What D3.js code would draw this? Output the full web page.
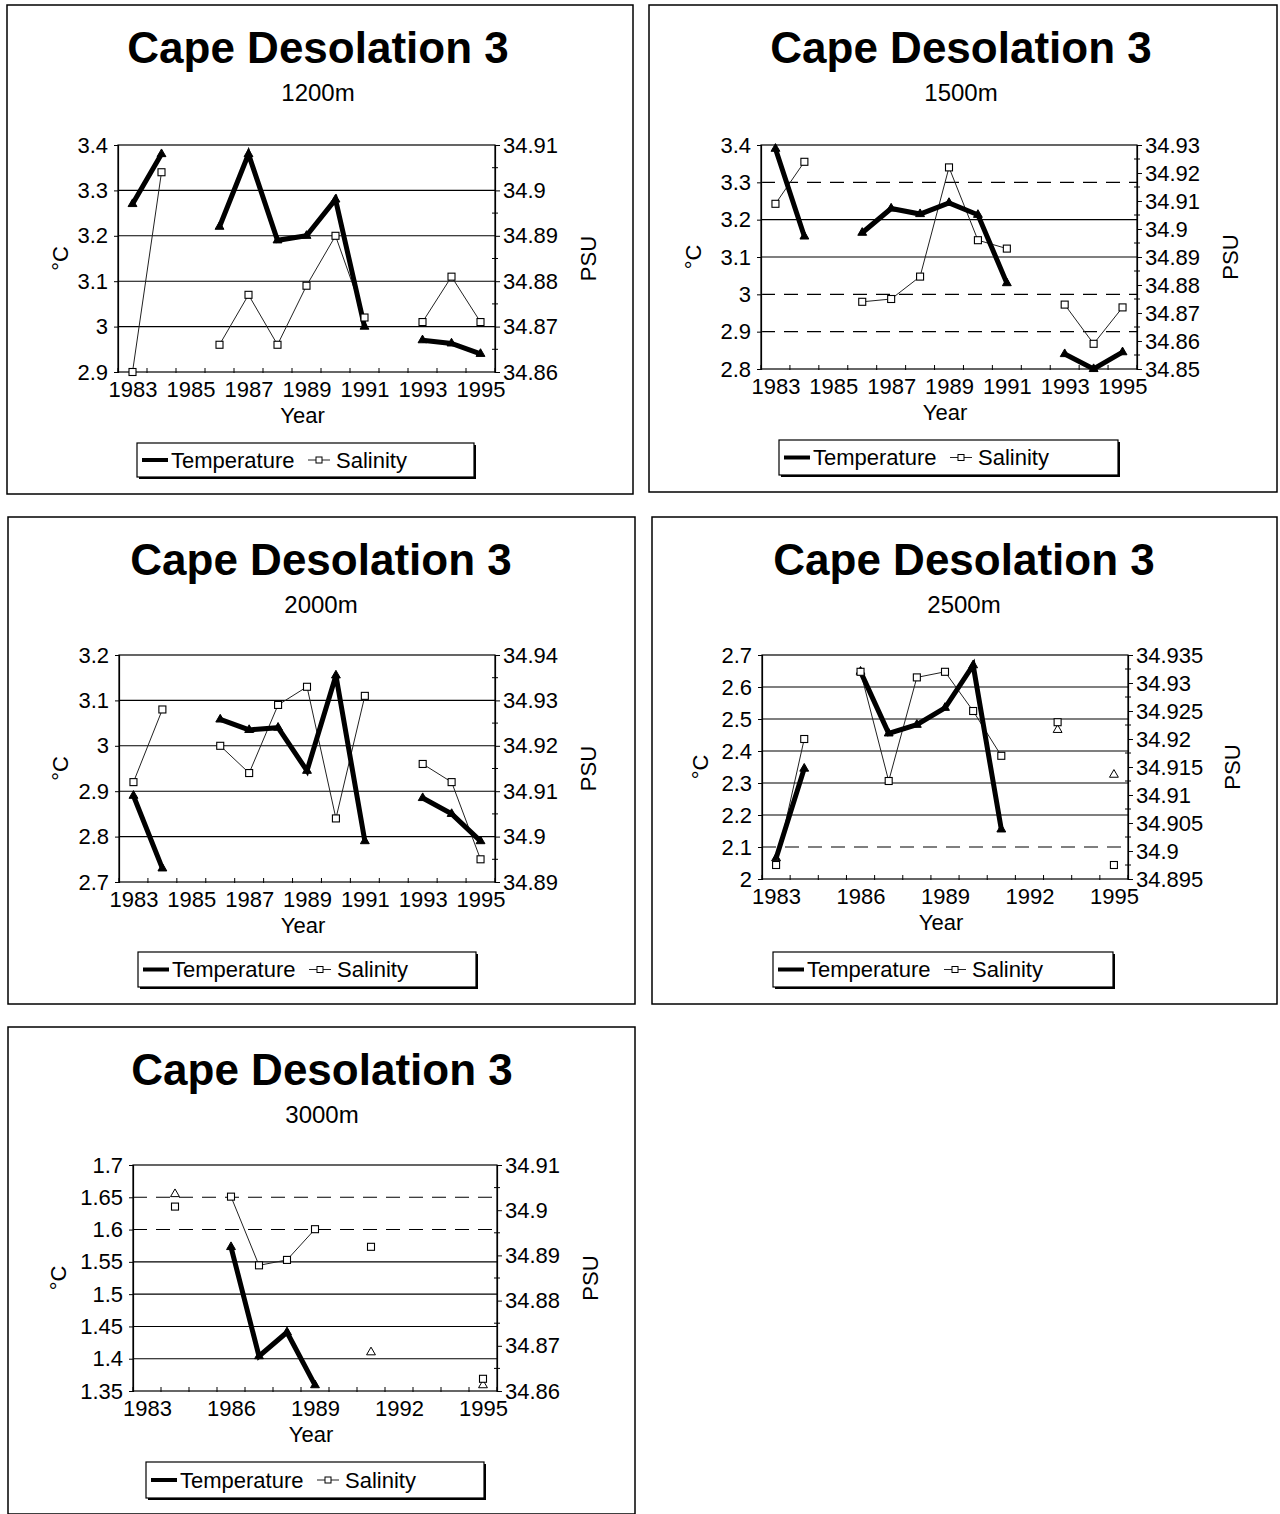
<!DOCTYPE html>
<html>
<head>
<meta charset="utf-8">
<script src="https://cdn.jsdelivr.net/npm/d3@7"></script>
<style>
  body { margin: 0; background: #fff; }
  svg { display: block; }
  text { font-family: "Liberation Sans", Arial, sans-serif; fill: #000; }
</style>
</head>
<body>
<svg id="chart" width="1280" height="1514"></svg>
<script>
// ---- Categories ----
const years = [1983, 1984, 1985, 1986, 1987, 1988, 1989, 1990, 1991, 1992, 1993, 1994, 1995];

// ---- Series values (null = no observation that year) ----
const temp1200 = [3.27, 3.38, null, 3.22, 3.38, 3.19, 3.20, 3.28, 3.00, null, 2.97, 2.963, 2.94];
const sal1200  = [34.860, 34.904, null, 34.866, 34.877, 34.866, 34.879, 34.890, 34.872, null, 34.871, 34.881, 34.871];

const temp1500 = [3.39, 3.155, null, 3.165, 3.23, 3.215, 3.245, 3.213, 3.03, null, 2.84, 2.80, 2.845];
const sal1500  = [34.909, 34.924, null, 34.874, 34.875, 34.883, 34.922, 34.896, 34.893, null, 34.873, 34.859, 34.872];

const temp2000 = [2.89, 2.73, null, 3.058, 3.035, 3.04, 2.945, 3.155, 2.79, null, 2.885, 2.85, 2.79];
const sal2000  = [34.912, 34.928, null, 34.920, 34.914, 34.929, 34.933, 34.904, 34.931, null, 34.916, 34.912, 34.895];

const temp2500 = [2.065, 2.345, null, 2.648, 2.455, 2.482, 2.535, 2.668, 2.155, null, 2.466, null, 2.326];
const sal2500  = [34.8975, 34.920, null, 34.932, 34.9125, 34.931, 34.932, 34.925, 34.917, null, 34.923, null, 34.8975];

const temp3000 = [null, 1.655, null, 1.573, 1.404, 1.441, 1.359, null, 1.41, null, null, null, 1.359];
const sal3000  = [null, 34.9008, null, 34.903, 34.8878, 34.889, 34.8958, null, 34.8919, null, null, null, 34.8627];

// ---- Tick labels ----
const tTicks1200 = [2.9, 3.0, 3.1, 3.2, 3.3, 3.4];
const sTicks1200 = [34.86, 34.87, 34.88, 34.89, 34.90, 34.91];
const tTicks1500 = [2.8, 2.9, 3.0, 3.1, 3.2, 3.3, 3.4];
const sTicks1500 = [34.85, 34.86, 34.87, 34.88, 34.89, 34.90, 34.91, 34.92, 34.93];
const tTicks2000 = [2.7, 2.8, 2.9, 3.0, 3.1, 3.2];
const sTicks2000 = [34.89, 34.90, 34.91, 34.92, 34.93, 34.94];
const tTicks2500 = [2.0, 2.1, 2.2, 2.3, 2.4, 2.5, 2.6, 2.7];
const sTicks2500 = [34.895, 34.90, 34.905, 34.91, 34.915, 34.92, 34.925, 34.93, 34.935];
const tTicks3000 = [1.35, 1.4, 1.45, 1.5, 1.55, 1.6, 1.65, 1.7];
const sTicks3000 = [34.86, 34.87, 34.88, 34.89, 34.90, 34.91];

const yearsEvery2 = [1983, 1985, 1987, 1989, 1991, 1993, 1995];
const yearsEvery3 = [1983, 1986, 1989, 1992, 1995];

const depths = ["1200m", "1500m", "2000m", "2500m", "3000m"];
const stationTitle = "Cape Desolation 3";

// ---- Panel layout ----
const panels = [
  { depth: depths[0], temp: temp1200, sal: sal1200, tTicks: tTicks1200, sTicks: sTicks1200, xTicks: yearsEvery2,
    dashed: [],
    frame: { x: 7, y: 5, w: 626, h: 489 }, plot: { x: 118, y: 145, w: 377, h: 227 },
    cx: 318, degX: 60, psuX: 588, legend: { x: 137, y: 443, w: 337, h: 34 } },
  { depth: depths[1], temp: temp1500, sal: sal1500, tTicks: tTicks1500, sTicks: sTicks1500, xTicks: yearsEvery2,
    dashed: [3.3, 3.0, 2.9],
    frame: { x: 649, y: 5, w: 628, h: 487 }, plot: { x: 761, y: 145, w: 376, h: 224 },
    cx: 961, degX: 693, psuX: 1230, legend: { x: 779, y: 440, w: 339, h: 35 } },
  { depth: depths[2], temp: temp2000, sal: sal2000, tTicks: tTicks2000, sTicks: sTicks2000, xTicks: yearsEvery2,
    dashed: [],
    frame: { x: 8, y: 517, w: 627, h: 487 }, plot: { x: 119, y: 655, w: 376, h: 227 },
    cx: 321, degX: 60, psuX: 588, legend: { x: 138, y: 952, w: 338, h: 35 } },
  { depth: depths[3], temp: temp2500, sal: sal2500, tTicks: tTicks2500, sTicks: sTicks2500, xTicks: yearsEvery3,
    dashed: [2.1],
    frame: { x: 652, y: 517, w: 625, h: 487 }, plot: { x: 762, y: 655, w: 366, h: 224 },
    cx: 964, degX: 700, psuX: 1232, legend: { x: 773, y: 952, w: 340, h: 35 } },
  { depth: depths[4], temp: temp3000, sal: sal3000, tTicks: tTicks3000, sTicks: sTicks3000, xTicks: yearsEvery3,
    dashed: [1.65, 1.6],
    frame: { x: 8, y: 1027, w: 627, h: 487 }, plot: { x: 133, y: 1165, w: 364, h: 226 },
    cx: 322, degX: 58, psuX: 590, legend: { x: 146, y: 1462, w: 338, h: 36 } }
];

const svg = d3.select("#chart");
const fmt = v => String(+v.toFixed(4));
const TICK_FONT = 22;

function styleAxis(g) {
  g.attr("font-family", null).attr("font-size", null);
  g.selectAll("text").style("font-size", TICK_FONT + "px");
  g.selectAll("path.domain").attr("stroke", "#000").attr("stroke-width", 1.2);
  g.selectAll(".tick line").attr("stroke", "#000").attr("stroke-width", 1);
}

function drawPanel(p) {
  const g = svg.append("g");
  const { frame, plot } = p;
  const bottom = plot.y + plot.h, right = plot.x + plot.w;

  g.append("rect")
    .attr("x", frame.x).attr("y", frame.y).attr("width", frame.w).attr("height", frame.h)
    .attr("fill", "none").attr("stroke", "#000").attr("stroke-width", 1.5);

  g.append("text").attr("x", p.cx).attr("y", frame.y + 58)
    .attr("text-anchor", "middle").style("font-size", "44px").style("font-weight", "bold")
    .text(stationTitle);
  g.append("text").attr("x", p.cx).attr("y", frame.y + 96)
    .attr("text-anchor", "middle").style("font-size", "24px")
    .text(p.depth);

  const x = d3.scalePoint().domain(years).range([plot.x, right]).padding(0.5);
  const yT = d3.scaleLinear().domain(d3.extent(p.tTicks)).range([bottom, plot.y]);
  const yS = d3.scaleLinear().domain(d3.extent(p.sTicks)).range([bottom, plot.y]);

  // horizontal gridlines
  g.append("g").selectAll("line")
    .data(p.tTicks.slice(1, -1))
    .join("line")
    .attr("x1", plot.x).attr("x2", right)
    .attr("y1", d => yT(d)).attr("y2", d => yT(d))
    .attr("stroke", "#000").attr("stroke-width", 1.1)
    .attr("stroke-dasharray", d => p.dashed.some(v => Math.abs(v - d) < 1e-9) ? "14,9" : null);

  // plot-area border
  g.append("rect").attr("x", plot.x).attr("y", plot.y).attr("width", plot.w).attr("height", plot.h)
    .attr("fill", "none").attr("stroke", "#000").attr("stroke-width", 1.2);

  // axes
  g.append("g").attr("transform", `translate(${plot.x},0)`)
    .call(d3.axisLeft(yT).tickValues(p.tTicks).tickFormat(fmt).tickSize(4).tickPadding(6))
    .call(styleAxis);
  g.append("g").attr("transform", `translate(${right},0)`)
    .call(d3.axisRight(yS).tickValues(p.sTicks).tickFormat(fmt).tickSize(5).tickPadding(3))
    .call(styleAxis);
  // minor ticks on the salinity axis
  const sMinor = p.sTicks.slice(1).map((v, i) => (v + p.sTicks[i]) / 2);
  g.append("g").selectAll("line").data(sMinor).join("line")
    .attr("x1", right - 3).attr("x2", right + 3)
    .attr("y1", d => yS(d)).attr("y2", d => yS(d))
    .attr("stroke", "#000").attr("stroke-width", 1);

  const xAxis = g.append("g").attr("transform", `translate(0,${bottom})`)
    .call(d3.axisBottom(x).tickValues(p.xTicks).tickSize(0).tickPadding(9))
    .call(styleAxis);
  xAxis.select("path.domain").remove();
  // category boundary tick marks
  const step = x.step();
  g.append("g").selectAll("line").data(years.concat([null]))
    .join("line")
    .attr("x1", (d, i) => plot.x + i * step).attr("x2", (d, i) => plot.x + i * step)
    .attr("y1", bottom - 4).attr("y2", bottom + 1)
    .attr("stroke", "#000").attr("stroke-width", 1);

  // axis titles
  g.append("text").attr("transform", `translate(${p.degX},${plot.y + plot.h / 2}) rotate(-90)`)
    .attr("text-anchor", "middle").attr("dy", "0.35em").style("font-size", "22px").text("°C");
  g.append("text").attr("transform", `translate(${p.psuX},${plot.y + plot.h / 2}) rotate(-90)`)
    .attr("text-anchor", "middle").attr("dy", "0.35em").style("font-size", "22px").text("PSU");
  g.append("text").attr("x", (plot.x + right) / 2 - 4).attr("y", bottom + 51)
    .attr("text-anchor", "middle").style("font-size", "22px").text("Year");

  // temperature: triangle markers underneath the heavy line
  const tPts = years.map((yr, i) => ({
    yr, v: p.temp[i],
    linked: p.temp[i] != null && (p.temp[i - 1] != null || p.temp[i + 1] != null)
  }));
  const sPts = years.map((yr, i) => ({ yr, v: p.sal[i] }));
  const tri = d3.symbol().type(d3.symbolTriangle).size(34);
  g.append("g").selectAll("path").data(tPts.filter(d => d.v != null)).join("path")
    .attr("d", tri)
    .attr("transform", d => `translate(${x(d.yr)},${yT(d.v)})`)
    .attr("fill", d => d.linked ? "#000" : "#fff").attr("stroke", "#000").attr("stroke-width", 1);

  // salinity: thin line with open squares
  g.append("path").datum(sPts)
    .attr("d", d3.line().defined(d => d.v != null).x(d => x(d.yr)).y(d => yS(d.v)))
    .attr("fill", "none").attr("stroke", "#222").attr("stroke-width", 1);

  g.append("path").datum(tPts)
    .attr("d", d3.line().defined(d => d.v != null).x(d => x(d.yr)).y(d => yT(d.v)))
    .attr("fill", "none").attr("stroke", "#000").attr("stroke-width", 5)
    .attr("stroke-linejoin", "miter").attr("stroke-linecap", "butt");

  g.append("g").selectAll("rect").data(sPts.filter(d => d.v != null)).join("rect")
    .attr("x", d => x(d.yr) - 3.5).attr("y", d => yS(d.v) - 3.5)
    .attr("width", 7).attr("height", 7)
    .attr("fill", "#fff").attr("stroke", "#000").attr("stroke-width", 1.1);

  // legend with drop shadow
  const L = p.legend;
  g.append("rect").attr("x", L.x + 2).attr("y", L.y + 2).attr("width", L.w).attr("height", L.h).attr("fill", "#000");
  g.append("rect").attr("x", L.x).attr("y", L.y).attr("width", L.w).attr("height", L.h)
    .attr("fill", "#fff").attr("stroke", "#000").attr("stroke-width", 1.2);
  const ly = L.y + L.h / 2;
  g.append("line").attr("x1", L.x + 5).attr("x2", L.x + 31).attr("y1", ly).attr("y2", ly)
    .attr("stroke", "#000").attr("stroke-width", 4);
  g.append("text").attr("x", L.x + 34).attr("y", ly).attr("dy", "0.35em").style("font-size", "22px").text("Temperature");
  g.append("line").attr("x1", L.x + 171).attr("x2", L.x + 193).attr("y1", ly).attr("y2", ly)
    .attr("stroke", "#222").attr("stroke-width", 1);
  g.append("rect").attr("x", L.x + 179).attr("y", ly - 3).attr("width", 6).attr("height", 6)
    .attr("fill", "#fff").attr("stroke", "#000").attr("stroke-width", 1);
  g.append("text").attr("x", L.x + 199).attr("y", ly).attr("dy", "0.35em").style("font-size", "22px").text("Salinity");
}

panels.forEach(drawPanel);
</script>
</body>
</html>
